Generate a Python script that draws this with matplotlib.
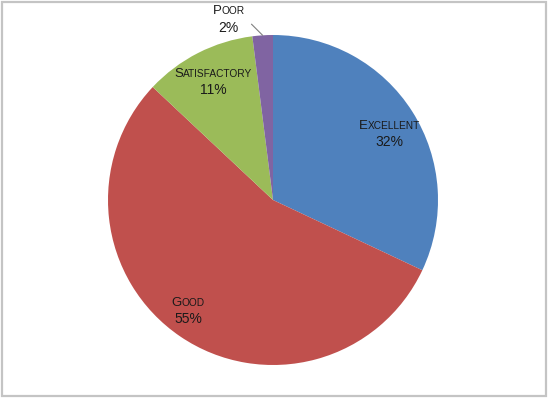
import numpy as np
import matplotlib.pyplot as plt
from matplotlib.offsetbox import TextArea, HPacker, VPacker, AnnotationBbox
from matplotlib.patches import Rectangle

categories = ['Excellent', 'Good', 'Satisfactory', 'Poor']
values = [32, 55, 11, 2]
colors = ['#4F81BD', '#C0504D', '#9BBB59', '#8064A2']
label_dist = [0.81, 0.85, 0.80, None]
label_shift = [-3, -3, 0, 0]  # degrees, nudges from slice middle
poor_label_pos = (-0.27, 1.09)

plt.rcParams['font.family'] = ['Liberation Sans', 'DejaVu Sans']

fig = plt.figure(figsize=(5.48, 3.98), dpi=100)
ax = fig.add_axes([108 / 548, 33 / 398, 330 / 548, 330 / 398])

wedges, _ = ax.pie(values, colors=colors, startangle=90, counterclock=False,
                   wedgeprops=dict(linewidth=0))
ax.set_xlim(-1, 1)
ax.set_ylim(-1, 1)
ax.set_aspect('equal')

def label_box(name, pct):
    tc = '#1a1a1a'
    caps = HPacker(children=[
        TextArea(name[0].upper(), textprops=dict(size=9.5, color=tc)),
        TextArea(name[1:].upper(), textprops=dict(size=7.3, color=tc)),
    ], align='baseline', pad=0, sep=0)
    pline = TextArea(f'{pct}%', textprops=dict(size=10, color=tc))
    return VPacker(children=[caps, pline], align='center', pad=0, sep=2.5)

for w, name, v, d, s in zip(wedges, categories, values, label_dist, label_shift):
    ang = np.deg2rad((w.theta1 + w.theta2) / 2 + s)
    box = label_box(name, v)
    if d is None:
        xe, ye = np.cos(ang), np.sin(ang)
        ab = AnnotationBbox(box, (xe, ye), xybox=poor_label_pos, xycoords='data',
                            boxcoords='data', frameon=False,
                            arrowprops=dict(arrowstyle='-', color='#7f7f7f',
                                            lw=0.8, shrinkA=1, shrinkB=0,
                                            connectionstyle='angle,angleA=0,angleB=135,rad=0'),
                            annotation_clip=False)
    else:
        x, y = d * np.cos(ang), d * np.sin(ang)
        ab = AnnotationBbox(box, (x, y), xycoords='data', frameon=False,
                            annotation_clip=False)
    ax.add_artist(ab)

fig.patches.append(Rectangle((0.003, 0.005), 0.993, 0.991, transform=fig.transFigure,
                             fill=False, edgecolor='#C4C4C4', linewidth=1.6))

fig.savefig('out.png', dpi=100)
